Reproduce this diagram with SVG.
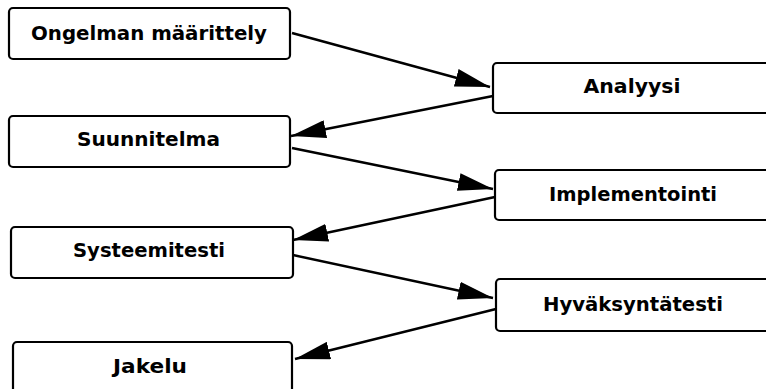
<svg xmlns="http://www.w3.org/2000/svg" width="766" height="389" viewBox="0 0 766 389">
  <style>
    .box { fill: #ffffff; stroke: #000000; stroke-width: 2.2; }
    .label { font-family: "DejaVu Sans", Verdana, sans-serif; font-weight: bold; font-size: 20px; fill: #000000; text-anchor: middle; }
    .edge { fill: none; stroke: #000000; stroke-width: 2.4; marker-end: url(#head); }
  </style>
  <defs>
    <marker id="head" viewBox="0 0 35 18" refX="35" refY="9" markerWidth="35" markerHeight="18" markerUnits="userSpaceOnUse" orient="auto">
      <path d="M0,0 L35,9 L0,18 Z" fill="#000000"/>
    </marker>
  </defs>
  <rect width="766" height="389" fill="#ffffff"/>

  <g id="connectors">
    <line class="edge" x1="292" y1="33" x2="490" y2="87"/>
    <line class="edge" x1="493" y1="96" x2="291" y2="136"/>
    <line class="edge" x1="292" y1="148" x2="493" y2="189"/>
    <line class="edge" x1="495" y1="197" x2="293" y2="240"/>
    <line class="edge" x1="293" y1="255" x2="493" y2="298"/>
    <line class="edge" x1="496" y1="309" x2="295" y2="359"/>
  </g>

  <g id="ongelman-maarittely">
    <rect class="box" x="9" y="8" width="281" height="51" rx="4"/>
    <text class="label" x="149" y="40" textLength="236" lengthAdjust="spacingAndGlyphs">Ongelman määrittely</text>
  </g>
  <g id="analyysi">
    <rect class="box" x="493" y="63" width="300" height="50" rx="4"/>
    <text class="label" x="632" y="93" textLength="97" lengthAdjust="spacingAndGlyphs">Analyysi</text>
  </g>
  <g id="suunnitelma">
    <rect class="box" x="9" y="116" width="281" height="51" rx="4"/>
    <text class="label" x="148.5" y="146" textLength="143" lengthAdjust="spacingAndGlyphs">Suunnitelma</text>
  </g>
  <g id="implementointi">
    <rect class="box" x="495" y="170" width="300" height="50" rx="4"/>
    <text class="label" x="633" y="201" textLength="168" lengthAdjust="spacingAndGlyphs">Implementointi</text>
  </g>
  <g id="systeemitesti">
    <rect class="box" x="11" y="227" width="282" height="51" rx="4"/>
    <text class="label" x="149" y="257" textLength="152" lengthAdjust="spacingAndGlyphs">Systeemitesti</text>
  </g>
  <g id="hyvaksyntatesti">
    <rect class="box" x="496" y="279" width="300" height="52" rx="4"/>
    <text class="label" x="633" y="311" textLength="180" lengthAdjust="spacingAndGlyphs">Hyväksyntätesti</text>
  </g>
  <g id="jakelu">
    <rect class="box" x="13" y="342" width="279" height="60" rx="4"/>
    <text class="label" x="150" y="373" textLength="74" lengthAdjust="spacingAndGlyphs">Jakelu</text>
  </g>
</svg>
